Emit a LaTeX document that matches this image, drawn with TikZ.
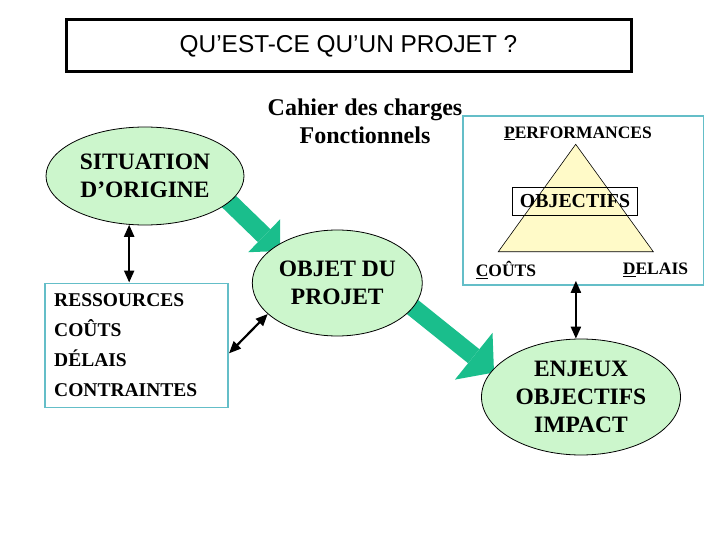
\documentclass[tikz,border=0pt]{standalone}
\usepackage{fontspec}
\setmainfont{Liberation Serif}
\newfontfamily\sansf{Liberation Sans}
\usetikzlibrary{shapes.geometric,arrows.meta,backgrounds}
\definecolor{ellfill}{RGB}{204,246,204}
\definecolor{fatgreen}{RGB}{26,190,140}
\definecolor{tealline}{RGB}{100,190,200}
\definecolor{trifill}{RGB}{255,250,200}
\newcommand\firstul[1]{\underline{#1}}
\begin{document}
\begin{tikzpicture}[x=1pt,y=-1pt,
  ell/.style={ellipse,draw=black,line width=0.8pt,fill=ellfill,inner sep=0pt,align=center,font=\bfseries\fontsize{23.5}{28}\selectfont},
  fat/.style={draw=fatgreen,line width=18pt},
  dbl/.style={line width=2.2pt,{Triangle[width=10pt,length=12pt]}-{Triangle[width=10pt,length=12pt]}},
  tbox/.style={draw=tealline,line width=1.6pt},
  lbl/.style={font=\bfseries\fontsize{17.5}{20}\selectfont,inner sep=0pt}
]
\useasboundingbox (0,0) rectangle (720,540);
% title
\node[draw=black,line width=3pt,minimum width=565pt,minimum height=52pt,inner sep=0pt,
      font=\sansf\fontsize{24.4}{28}\selectfont] (title) at (348.5,46) {QU’EST-CE QU’UN PROJET ?};
% ellipses
\node[ell,minimum width=198pt,minimum height=98pt] (sit) at (145,176) {SITUATION\\D’ORIGINE};
\node[ell,minimum width=170pt,minimum height=106pt] (obj) at (337.3,283) {OBJET DU\\PROJET};
\node[ell,minimum width=199pt,minimum height=116pt] (enj) at (581,397) {ENJEUX\\OBJECTIFS\\IMPACT};
% cahier des charges
\node[font=\bfseries\fontsize{24}{28}\selectfont,align=center,inner sep=0pt] (cdc) at (365,121) {Cahier des charges\\Fonctionnels};
% resources box
\node[tbox,minimum width=183pt,minimum height=124pt,text width=165pt,align=left,inner sep=0pt,
      font=\bfseries\fontsize{19.5}{30}\selectfont] (res) at (136.7,345.3) {RESSOURCES\\COÛTS\\DÉLAIS\\CONTRAINTES};
% triangle box
\node[tbox,minimum width=240.6pt,minimum height=169pt,inner sep=0pt] (tri) at (583,200.5) {};
\coordinate (tA) at (575.7,144.3);
\coordinate (tB) at (498.3,251.7);
\coordinate (tC) at (653.3,251.7);
\draw[fill=trifill,line width=0.6pt] (tA) -- (tB) -- (tC) -- cycle;
\node[draw=black,line width=0.8pt,minimum width=124.6pt,minimum height=27.7pt,inner sep=0pt,
      font=\bfseries\fontsize{19.8}{22}\selectfont] (objf) at (575,201.2) {OBJECTIFS};
\node[lbl] (perf) at (578,133.3) {\firstul{P}ERFORMANCES};
\node[lbl] (couts) at (506,270) {\firstul{C}OÛTS};
\node[lbl] (delais) at (655.5,270) {\firstul{D}ELAIS};
% double arrows
\draw[dbl] (sit.252) -- (sit.252 |- res.north);
\draw[dbl] (res.-5) -- (obj.204);
\draw[dbl,shorten >=-5pt] (enj.95) -- (enj.95 |- tri.south);
% fat green arrows behind
\begin{scope}[on background layer]
\coordinate (a1s) at (215,188);
\coordinate (a1e) at (280,251);
\coordinate (a2s) at (399.4,296.5);
\coordinate (a2e) at (494,372.5);
\draw[fat,-{Triangle[width=46pt,length=22pt,line width=0pt]}] (a1s) -- (a1e);
\draw[fat,-{Triangle[width=60pt,length=26pt,line width=0pt]}] (a2s) -- (a2e);
\end{scope}
\end{tikzpicture}
\end{document}
